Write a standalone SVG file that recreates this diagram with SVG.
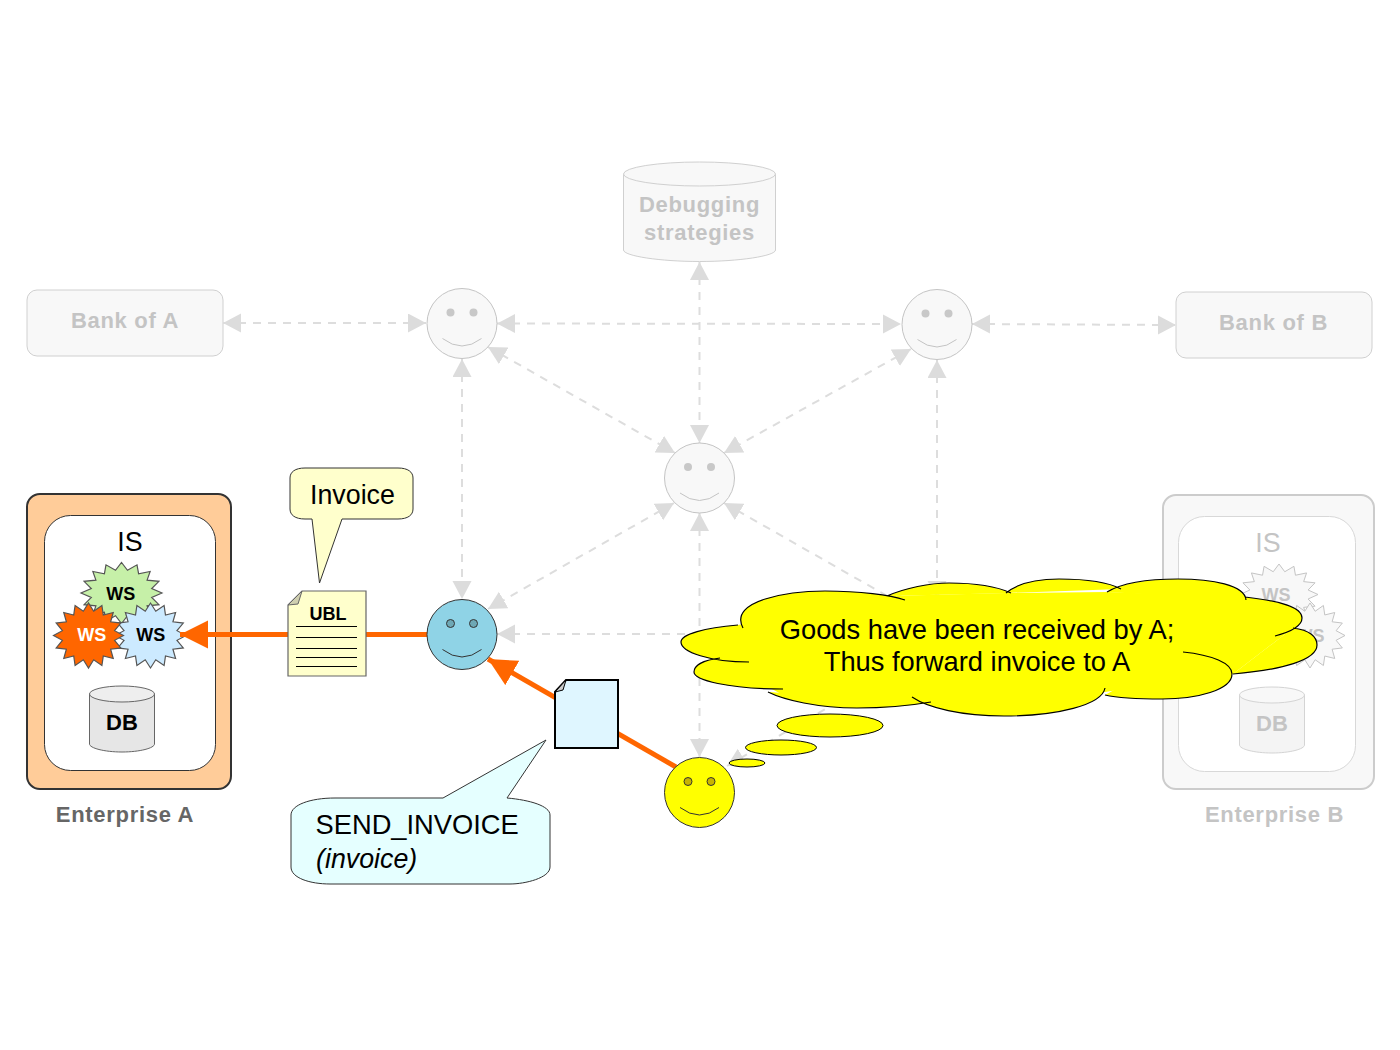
<svg xmlns="http://www.w3.org/2000/svg" width="1400" height="1050" viewBox="0 0 1400 1050">
<style>
text{font-family:"Liberation Sans",Arial,sans-serif}
.m{text-anchor:middle}
.lbl{font-weight:bold;font-size:22px;letter-spacing:.7px;text-anchor:middle}
.ws{font-weight:bold;font-size:18px;text-anchor:middle}
.db{font-weight:bold;font-size:22px;text-anchor:middle}
.big{font-size:26.8px;fill:#000}
.lg{font-size:27.3px}
.gt{fill:#c4c4c4}
.gbox{fill:#f8f8f8;stroke:#d0d0d0;stroke-width:1}
.gsm{fill:#f8f8f8;stroke:#c4c4c4;stroke-width:1}
.dash{fill:none;stroke:#ddd;stroke-width:2;stroke-dasharray:8 7;marker-start:url(#ga);marker-end:url(#ga)}
.or{fill:none;stroke:#f60;stroke-width:5}
.rule{stroke:#000;stroke-width:1}
.cl{stroke:#000;stroke-width:1.2;fill:none}
</style>
<defs>
<marker id="ga" markerUnits="userSpaceOnUse" markerWidth="20" markerHeight="20" refX="18" refY="9.500" orient="auto-start-reverse"><path d="M0,0L18,9.500L0,19Z" fill="#dcdcdc"/></marker>
<marker id="oa" markerUnits="userSpaceOnUse" markerWidth="30" markerHeight="30" refX="28" refY="14" orient="auto"><path d="M0,0L28,14L0,28Z" fill="#f60"/></marker>
<polygon id="star" vector-effect="non-scaling-stroke" points="100,0 74.600,14.800 92.400,38.300 63.200,42.200 70.700,70.700 42.200,63.200 38.300,92.400 14.800,74.600 0,100 -14.800,74.600 -38.300,92.400 -42.200,63.200 -70.700,70.700 -63.200,42.200 -92.400,38.300 -74.600,14.800 -100,0 -74.600,-14.800 -92.400,-38.300 -63.200,-42.200 -70.700,-70.700 -42.200,-63.200 -38.300,-92.400 -14.800,-74.600 0,-100 14.800,-74.600 38.300,-92.400 42.200,-63.200 70.700,-70.700 63.200,-42.200 92.400,-38.300 74.600,-14.800"/>
<g id="face"><circle cx="-11.500" cy="-11" r="4"/><circle cx="11.500" cy="-11" r="4"/><path d="M-19.500,15Q0,30 19.500,15" fill="none"/></g>
<g id="gface"><circle cx="-11.500" cy="-11" r="4" fill="#c8c8c8" stroke="none"/><circle cx="11.500" cy="-11" r="4" fill="#c8c8c8" stroke="none"/><path d="M-19.500,15Q0,30 19.500,15" fill="none" stroke="#c4c4c4"/></g>
<path id="cloudp" d="M743,628C728,600 790,591 825,591C860,591 890,595 905,600M887,596C905,588 930,583 949,583C975,583 998,587 1011,593M1006,593C1018,583 1038,579 1059,579C1085,579 1108,582 1121,589M1107,592C1122,583 1150,579 1178,579C1212,579 1245,585 1246,600M1245,597C1280,601 1302,607 1302,618C1302,626 1290,632 1275,636M1293,628C1310,630 1317,637 1317,645C1317,660 1282,670 1233,674M1183,652C1212,655 1232,663 1232,674C1232,690 1197,699 1162,699C1137,699 1118,698 1105,695M1105,688C1102,705 1057,716 1004,716C962,716 928,708 912,697M931,702C908,706 883,708 857,708C818,708 784,700 768,692M783,689C728,689 694,680 694,672C694,665 704,660 720,658M749,662C710,662 681,652 681,642C681,634 705,628 738,625"/>
</defs>

<g id="enterprise-a">
<rect x="27" y="494" width="204" height="295" rx="13" fill="#ffcc99" stroke="#333" stroke-width="2"/>
<rect x="44.500" y="515.500" width="171" height="255" rx="26" fill="#fff" stroke="#333" stroke-width="1"/>
<text x="130" y="550.500" class="m big">IS</text>
<use href="#star" transform="translate(121.500 593) scale(.405 .305)" fill="#c6f0a8" stroke="#555" stroke-width="1.200"/>
<text x="120.700" y="600" class="ws">WS</text>
<use href="#star" transform="translate(150.500 635.500) scale(.355 .325)" fill="#cceaff" stroke="#555" stroke-width="1.200"/>
<text x="150.700" y="641" class="ws">WS</text>
<use href="#star" transform="translate(88.500 635.500) scale(.35 .325)" fill="#f60" stroke="#555" stroke-width="1.200"/>
<text x="91.700" y="641" class="ws" fill="#fff">WS</text>
<path d="M89.500,694V744C89.500,748 104,752 122,752S154.500,748 154.500,744V694Z" fill="#e6e6e6" stroke="#666"/>
<ellipse cx="122" cy="694" rx="32.500" ry="8" fill="#eee" stroke="#666"/>
<text x="122" y="729.500" class="db">DB</text>
<text x="125" y="822" class="lbl" fill="#666">Enterprise A</text>
</g>

<g id="enterprise-b">
<rect x="1163" y="495" width="211" height="294" rx="13" fill="#f8f8f8" stroke="#ccc" stroke-width="2"/>
<rect x="1178.500" y="516.500" width="177" height="255" rx="26" fill="#fff" stroke="#d8d8d8" stroke-width="1"/>
<text x="1268" y="551.500" class="m big gt">IS</text>
<use href="#star" transform="translate(1279 594.500) scale(.39 .305)" fill="#f8f8f8" stroke="#c4c4c4" stroke-width="1"/>
<text x="1276" y="600.500" class="ws gt">WS</text>
<use href="#star" transform="translate(1310 635.500) scale(.35 .325)" fill="#f8f8f8" stroke="#c4c4c4" stroke-width="1"/>
<text x="1310" y="642" class="ws gt">WS</text>
<path d="M1239.500,695V745C1239.500,749 1254,753 1272,753S1304.500,749 1304.500,745V695Z" fill="#f4f4f4" stroke="#d4d4d4"/>
<ellipse cx="1272" cy="695" rx="32.500" ry="8" fill="#f8f8f8" stroke="#d4d4d4"/>
<text x="1272" y="730.500" class="db gt">DB</text>
<text x="1274.500" y="822" class="lbl gt">Enterprise B</text>
</g>

<g id="bank-a"><rect class="gbox" x="27" y="290" width="196" height="66" rx="10"/><text x="125" y="328" class="lbl gt">Bank of A</text></g>
<g id="bank-b"><rect class="gbox" x="1176" y="292" width="196" height="66" rx="10"/><text x="1273.500" y="330" class="lbl gt">Bank of B</text></g>
<g id="debugging">
<path class="gbox" d="M623.500,174V250C623.500,256 660,261.500 699.500,261.500S775.500,256 775.500,250V174Z"/>
<ellipse class="gbox" cx="699.500" cy="174" rx="76" ry="12"/>
<text x="699.500" y="212" class="lbl gt">Debugging</text>
<text x="699.500" y="240" class="lbl gt">strategies</text>
</g>

<g id="connectors">
<path class="dash" d="M223,323H426"/>
<path class="dash" d="M497,323.500L901,324"/>
<path class="dash" d="M972,324L1176,325"/>
<path class="dash" d="M699.500,262V443"/>
<path class="dash" d="M462,359V599"/>
<path class="dash" d="M937,360V599"/>
<path class="dash" d="M488,347L675,453"/>
<path class="dash" d="M911,349L724,453"/>
<path class="dash" d="M699.500,513V757"/>
<path class="dash" d="M674,503L488,609"/>
<path class="dash" d="M724,503L910,609"/>
<path class="dash" d="M497,634H901"/>
<path class="dash" d="M727,766L910,660"/>
<path class="or" d="M427,634.500H180" marker-end="url(#oa)"/>
<path class="or" d="M676,767L488,659" marker-end="url(#oa)"/>
</g>

<g id="smiley-nw"><circle class="gsm" cx="462" cy="323.500" r="35"/><use href="#gface" x="462" y="323.500"/></g>
<g id="smiley-ne"><circle class="gsm" cx="937" cy="324.500" r="35"/><use href="#gface" x="937" y="324.500"/></g>
<g id="smiley-c"><circle class="gsm" cx="699.500" cy="478" r="35"/><use href="#gface" x="699.500" y="478"/></g>
<g id="smiley-blue"><circle cx="462" cy="634.500" r="35" fill="#8fd3e6" stroke="#333"/><use href="#face" x="462" y="634.500" fill="#6ea8b5" stroke="#333"/></g>
<g id="smiley-yellow"><circle cx="699.500" cy="792.500" r="35" fill="#ff0" stroke="#333"/><use href="#face" x="699.500" y="792.500" fill="#c8b400" stroke="#333"/></g>

<g id="ubl-doc">
<path d="M302,591H366V676H288V605Z" fill="#ffffcc" stroke="#666" stroke-width="1.200"/>
<path d="M302,591L288,605L298,604Z" fill="#cfcfb0" stroke="#666"/>
<text x="328" y="619.500" class="ws">UBL</text>
<path class="rule" d="M296,626.500H357M296,637.500H357M296,648.500H357M296,657.500H357M296,666.500H357"/>
</g>
<g id="invoice-callout">
<path d="M305,468H398C408,468 413,472 413,478V509C413,515 408,519 398,519H342L319.500,583L312,519H305C295,519 290,515 290,509V478C290,472 295,468 305,468Z" fill="#ffffcc" stroke="#333"/>
<text x="310" y="504" class="big">Invoice</text>
</g>
<g id="send-doc">
<path d="M566,680H618V748H555V692Z" fill="#dff6ff" stroke="#000" stroke-width="2"/>
<path d="M566,680L555,692L563,690Z" fill="#ccc" stroke="#000"/>
</g>
<g id="send-callout">
<path d="M443,798L546,740L507,798C530,800 550,806 550,815V867C550,878 525,884 510,884H330C310,884 291,878 291,867V815C291,805 310,798 335,798Z" fill="#e5ffff" stroke="#333"/>
<text x="315.500" y="834" class="big lg">SEND_INVOICE</text>
<text x="316" y="867.500" class="big" font-style="italic">(invoice)</text>
</g>
<g id="thought-cloud">
<use href="#cloudp" fill="#ff0"/>
<polygon points="738,625 887,596 1006,593 1107,592 1245,597 1293,628 1233,674 1183,680 1105,692 931,704 785,696 770,688 720,658" fill="#ff0"/>
<use href="#cloudp" class="cl"/>
<ellipse cx="830" cy="725.500" rx="53" ry="11.500" fill="#ff0" stroke="#000"/>
<ellipse cx="781" cy="747.500" rx="35.500" ry="7.500" fill="#ff0" stroke="#000"/>
<ellipse cx="747" cy="763" rx="18" ry="4" fill="#ff0" stroke="#000"/>
<text x="977" y="639" class="m big lg">Goods have been received by A;</text>
<text x="977" y="670.500" class="m big lg">Thus forward invoice to A</text>
</g>
</svg>
